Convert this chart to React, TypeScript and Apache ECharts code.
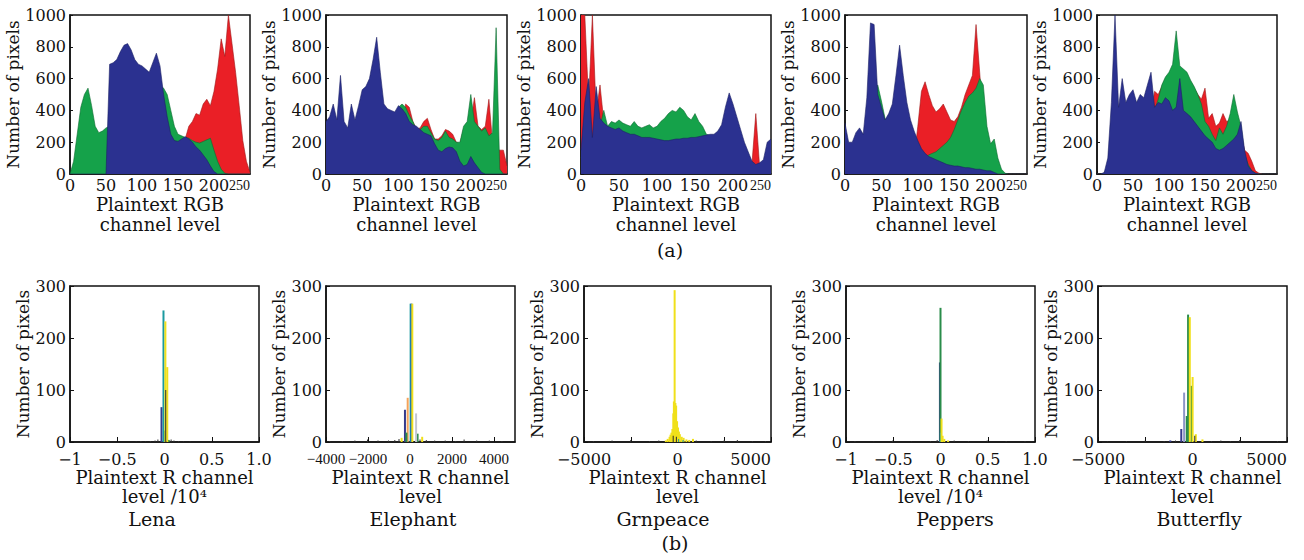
import React, { useEffect, useRef } from "react";
import * as echarts from "echarts";

// ---------- DATA ----------
const levels = [0,5,10,15,20,25,30,35,40,45,50,55,60,65,70,75,80,85,90,95,100,105,110,115,120,125,130,135,140,145,150,155,160,165,170,175,180,185,190,195,200,205,210,215,220,225,230,235,240,245,250];

// (a) plaintext RGB histograms (pixel counts per level bin)
const lenaRed = [0,0,20,40,60,80,80,80,90,100,100,120,130,140,140,140,140,140,140,140,140,140,140,140,140,150,150,160,170,180,190,200,220,300,330,380,370,440,470,430,520,660,850,740,1000,820,640,430,210,80,10];
const lenaGreen = [0,80,250,420,500,540,430,300,260,270,290,300,350,400,450,480,500,520,520,520,530,540,550,560,560,560,540,500,400,300,250,240,230,225,210,200,195,205,215,225,150,80,30,5,0,0,0,0,0,0,0];
const lenaBlue = [0,0,0,0,0,0,0,0,0,0,0,690,700,720,770,810,820,780,720,690,680,660,640,700,760,680,500,360,250,210,205,220,235,220,200,170,150,120,90,50,15,0,0,0,0,0,0,0,0,0,0];

const elephantRed = [200,200,200,200,200,200,200,200,200,200,200,200,200,200,200,200,200,200,200,200,200,300,440,420,330,280,290,330,350,280,220,220,240,280,270,250,200,190,280,300,320,480,300,280,300,470,200,160,150,150,50];
const elephantGreen = [250,250,250,250,250,250,250,250,250,250,250,250,250,250,250,250,250,250,250,250,420,440,420,370,330,280,280,300,300,260,220,210,230,270,230,220,200,200,300,330,500,330,300,270,290,240,260,920,30,0,0];
const elephantBlue = [330,360,440,340,620,330,290,440,340,430,530,550,600,720,860,640,440,410,400,390,430,410,380,330,310,300,280,260,250,240,190,150,140,160,170,165,140,80,50,60,110,70,40,10,0,0,0,0,0,0,0];

const grnpeaceRed = [1000,1000,450,1000,380,560,330,180,180,180,180,180,180,180,180,180,180,180,180,180,180,180,180,180,180,180,180,180,180,180,180,180,180,180,180,180,180,180,180,180,180,180,180,150,120,70,380,50,40,30,20];
const grnpeaceGreen = [100,150,200,200,250,300,400,300,330,320,340,320,310,300,330,300,290,300,310,290,300,330,350,380,400,390,420,400,360,340,380,330,300,250,240,220,200,200,200,200,200,200,180,150,100,60,40,30,30,30,30];
const grnpeaceBlue = [150,450,600,230,550,350,320,300,290,280,290,270,260,250,250,240,230,230,230,225,220,215,210,210,215,220,220,225,225,230,230,235,240,245,250,250,270,310,420,510,440,360,280,200,140,80,60,70,90,200,220];

const peppersRed = [100,100,100,100,100,100,100,100,100,100,100,100,100,100,100,100,100,100,100,100,300,520,580,500,430,390,410,440,390,340,330,360,420,500,560,620,940,640,330,150,60,20,0,0,0,0,0,0,0,0,0];
const peppersGreen = [150,150,150,200,280,240,300,400,500,560,460,350,320,320,300,280,250,200,160,130,110,100,100,120,130,140,160,180,200,230,280,340,400,450,490,510,540,600,560,300,190,220,100,30,5,0,0,0,0,0,0];
const peppersBlue = [320,200,200,260,290,250,480,950,940,500,420,340,380,440,620,810,620,450,340,270,210,160,130,110,100,90,80,70,60,55,50,50,45,40,40,35,30,30,25,20,20,10,0,0,0,0,0,0,0,0,0];

const butterflyRed = [0,0,5,50,300,350,350,350,350,350,350,350,350,350,350,380,520,500,550,600,600,640,700,650,640,620,580,540,500,470,540,350,380,300,320,380,330,340,380,300,250,150,130,80,20,5,0,0,0,0,0];
const butterflyGreen = [0,0,5,50,300,350,350,350,350,350,350,350,350,350,350,380,400,470,560,610,640,690,900,680,660,640,590,550,500,440,330,300,250,210,290,250,300,380,500,390,300,120,60,20,5,0,0,0,0,0,0];
const butterflyBlue = [0,0,10,100,450,1000,420,600,450,500,530,450,500,480,560,640,420,450,440,480,460,400,420,600,400,380,360,330,300,270,240,220,200,160,150,160,180,200,220,250,330,150,50,20,5,0,0,0,0,0,0];

// (b) histograms: [level, count]
const lenaNoise = [[-0.3,1],[-0.25,2],[-0.2,1],[-0.15,2],[-0.1,3],[-0.07,5],[0.07,5],[0.1,3],[0.15,2],[0.2,1],[0.27,1]];
const lenaNavy = [[-0.037,67]];
const lenaTeal = [[-0.016,253]];
const lenaGreen2 = [[-0.008,22],[0.04,4]];
const lenaYellow = [[0.004,232],[0.024,144]];
const lenaDark = [[0.013,100]];

const elephantNoise = [[-3800,2],[-3200,2],[-2600,3],[-2000,5],[-1500,3],[-1000,3],[-700,4],[-500,6],[500,5],[800,4],[1200,3],[1700,3],[2200,2],[2600,5],[3200,3],[3800,3],[4400,2]];
const elephantNavy = [[-240,62]];
const elephantOrange = [[-110,85]];
const elephantGreen2 = [[-170,18],[360,16]];
const elephantGray = [[290,55]];
const elephantTeal = [[30,266]];
const elephantBlue2 = [[70,266]];
const elephantYellow = [[110,266],[-400,8],[580,10]];

const grnpeaceNoise = [[-4500,2],[-3500,3],[-2500,4],[-1500,2],[-1000,3],[1000,3],[1800,2],[2500,4],[3200,4],[4000,2],[4700,2]];
const grnpeaceYellow = [[-650,3],[-550,6],[-450,10],[-400,14],[-350,18],[-300,25],[-250,55],[-220,78],[-180,292],[-140,75],[-100,70],[-50,40],[0,28],[50,20],[100,15],[200,10],[300,8],[450,5],[600,4],[800,6]];
const grnpeaceDark = [[-230,12],[-60,10]];
const grnpeaceTeal = [[60,6],[300,4]];

const peppersNoise = [[-0.9,2],[-0.7,1],[-0.5,3],[-0.3,1],[-0.1,2],[-0.03,4],[0.15,3],[0.3,2],[0.5,3],[0.7,2],[0.9,2]];
const peppersNavy = [[-0.006,153]];
const peppersGreen2 = [[0.0,258]];
const peppersTeal = [[0.004,18]];
const peppersYellow = [[0.011,45],[0.022,12],[0.04,6],[0.08,3]];

const butterflyNoise = [[-4500,1],[-3500,2],[-2500,3],[-1500,2],[-900,3],[1000,2],[1500,3],[2000,2],[2500,4],[3500,2],[4500,2]];
const butterflyNavy = [[-620,25],[-1200,3]];
const butterflySlate = [[-470,95]];
const butterflyGreen2 = [[-330,50],[-260,245],[-80,108]];
const butterflyYellow = [[-170,240],[-20,125],[150,15],[500,5]];
const butterflyDark = [[120,12]];

const imageNames = ["Lena", "Elephant", "Grnpeace", "Peppers", "Butterfly"];

// ---------- STYLE / LAYOUT ----------
const FONT = "DejaVu Serif";
const INK = "#111";
const RED = "#ea1f26";
const GREEN = "#15a24a";
const BLUE = "#2b3190";
const C = {
  navy: "#353a8c", teal: "#1b9aa0", green: "#2a8c4a", yellow: "#f0e01a",
  orange: "#f3a35a", gray: "#c3c6d0", slate: "#8d95c8", dark: "#2b2b2b", noise: "#333333",
};

const topGrids = [
  { left: 70, width: 180 }, { left: 326, width: 181 }, { left: 581, width: 190 },
  { left: 845, width: 182 }, { left: 1097, width: 180 },
];
const botGrids = [
  { left: 70, width: 189 }, { left: 326, width: 189 }, { left: 584, width: 187 },
  { left: 846, width: 189 }, { left: 1098, width: 189 },
];

const topData = [
  [lenaRed, lenaGreen, lenaBlue],
  [elephantRed, elephantGreen, elephantBlue],
  [grnpeaceRed, grnpeaceGreen, grnpeaceBlue],
  [peppersRed, peppersGreen, peppersBlue],
  [butterflyRed, butterflyGreen, butterflyBlue],
];

const botData = [
  [[lenaNoise, C.noise, 1], [lenaNavy, C.navy, 2], [lenaGreen2, C.green, 2], [lenaTeal, C.teal, 2], [lenaYellow, C.yellow, 2], [lenaDark, C.dark, 1]],
  [[elephantNoise, C.noise, 1], [elephantNavy, C.navy, 2], [elephantOrange, C.orange, 2], [elephantGreen2, C.green, 2], [elephantGray, C.gray, 2], [elephantTeal, C.teal, 2], [elephantBlue2, "#2062c0", 2], [elephantYellow, C.yellow, 2]],
  [[grnpeaceNoise, C.noise, 1], [grnpeaceYellow, C.yellow, 2], [grnpeaceDark, C.dark, 1], [grnpeaceTeal, C.teal, 1]],
  [[peppersNoise, C.noise, 1], [peppersNavy, C.navy, 2], [peppersGreen2, C.green, 2], [peppersTeal, C.teal, 2], [peppersYellow, C.yellow, 2]],
  [[butterflyNoise, C.noise, 1], [butterflyNavy, C.navy, 2], [butterflySlate, C.slate, 2], [butterflyGreen2, C.green, 2], [butterflyYellow, C.yellow, 2], [butterflyDark, C.dark, 1]],
];

const botX = [
  { min: -1, max: 1, interval: 0.5, name: "Plaintext R channel\nlevel /10\u2074" },
  { min: -4000, max: 5000, interval: 2000, name: "Plaintext R channel\nlevel" },
  { min: -5000, max: 5000, interval: 5000, name: "Plaintext R channel\nlevel" },
  { min: -1, max: 1, interval: 0.5, name: "Plaintext R channel\nlevel /10\u2074" },
  { min: -5000, max: 5000, interval: 5000, name: "Plaintext R channel\nlevel" },
];

const minus = (v: number) => (v === 1 ? "1.0" : String(v).replace("-", "\u2212"));
const plain = (v: number) => String(v);

function buildOption() {
  const grid: any[] = [];
  const xAxis: any[] = [];
  const yAxis: any[] = [];
  const series: any[] = [];
  const labelStyle = { fontFamily: FONT, fontSize: 16, color: INK };
  const nameStyle = { fontFamily: FONT, fontSize: 18, color: INK };
  const axisLine = { show: true, onZero: false, lineStyle: { color: INK, width: 1.5 } };

  topGrids.forEach((g, i) => {
    grid.push({ left: g.left, top: 15, width: g.width, height: 159, show: true, borderColor: INK, borderWidth: 1.5 });
    const xi = xAxis.length;
    // main x axis: ticks 0..250, labels 0..200
    xAxis.push({
      gridIndex: i, type: "value", position: "bottom", min: 0, max: 250, interval: 50,
      axisLine, axisTick: { show: true, inside: true, length: 3, lineStyle: { color: INK } },
      splitLine: { show: false },
      axisLabel: { ...labelStyle, margin: 3, showMinLabel: true, showMaxLabel: false, formatter: plain },
      name: "Plaintext RGB\nchannel level", nameLocation: "middle", nameGap: 20,
      nameTextStyle: { ...nameStyle, lineHeight: 20 },
    });
    // companion axis that carries only the squeezed, right-aligned "250" label
    xAxis.push({
      gridIndex: i, type: "value", position: "bottom", min: 0, max: 250, interval: 250,
      axisLine: { show: false }, axisTick: { show: false }, splitLine: { show: false },
      axisLabel: {
        ...labelStyle, fontFamily: "Liberation Serif", fontSize: 14, margin: 4,
        showMinLabel: false, showMaxLabel: true, alignMaxLabel: "right", formatter: plain,
      },
    });
    yAxis.push({
      gridIndex: i, type: "value", min: 0, max: 1000, interval: 200,
      axisLine, axisTick: { show: true, inside: true, length: 3, lineStyle: { color: INK } },
      splitLine: { show: false },
      axisLabel: { ...labelStyle, margin: 4, showMinLabel: true, showMaxLabel: true, formatter: plain },
      name: "Number of pixels", nameLocation: "middle", nameGap: 45, nameRotate: 90,
      nameTextStyle: { ...nameStyle, fontSize: 17 },
    });
    const cols = [[RED, "#9e1a1a"], [GREEN, "#0d6b30"], [BLUE, "#1c2166"]];
    topData[i].forEach((arr, k) => {
      series.push({
        type: "line", xAxisIndex: xi, yAxisIndex: i, silent: true,
        showSymbol: false, symbol: "none", clip: true,
        data: levels.map((l, j) => [l, arr[j]]),
        lineStyle: { width: 0.6, color: cols[k][1] },
        areaStyle: { color: cols[k][0], opacity: 1 },
        itemStyle: { color: cols[k][0] },
        z: 2 + k,
      });
    });
  });

  botGrids.forEach((g, j) => {
    const i = j + 5;
    const bx = botX[j];
    grid.push({ left: g.left, top: 286, width: g.width, height: 156, show: true, borderColor: INK, borderWidth: 1.5 });
    const xi = xAxis.length;
    const labelOpts: any = j === 1
      ? { fontFamily: "Liberation Serif", fontSize: 15, showMaxLabel: false }
      : { showMinLabel: true, showMaxLabel: true, alignMaxLabel: bx.interval === 5000 ? "right" : "center" };
    xAxis.push({
      gridIndex: i, type: "value", position: "bottom", min: bx.min, max: bx.max, interval: bx.interval,
      axisLine, axisTick: { show: true, inside: true, length: 5, lineStyle: { color: INK } },
      minorTick: { show: bx.interval === 5000, splitNumber: 2, length: 5, lineStyle: { color: INK } },
      splitLine: { show: false },
      axisLabel: {
        ...labelStyle, lineHeight: 16, margin: 9, ...labelOpts,
        formatter: (v: number) => minus(v),
      },
      name: bx.name, nameLocation: "middle", nameGap: 25,
      nameTextStyle: { ...nameStyle, lineHeight: 19 },
    });
    yAxis.push({
      gridIndex: i, type: "value", min: 0, max: 300, interval: 100,
      axisLine, axisTick: { show: true, inside: true, length: 4, lineStyle: { color: INK } },
      splitLine: { show: false },
      axisLabel: { ...labelStyle, lineHeight: 16, margin: 4, showMinLabel: true, showMaxLabel: true, formatter: plain },
      name: "Number of pixels", nameLocation: "middle", nameGap: 39, nameRotate: 90,
      nameTextStyle: { ...nameStyle, fontSize: 17 },
    });
    botData[j].forEach(([data, color, w]: any, k: number) => {
      series.push({
        type: "bar", xAxisIndex: xi, yAxisIndex: i, silent: true,
        data, barWidth: w, barGap: "-100%",
        itemStyle: { color }, z: 2 + k,
      });
    });
  });

  const txt = (text: string, x: number, y: number) => ({
    type: "text", x, y, silent: true,
    style: {
      text, fill: INK, fontFamily: FONT, fontSize: 19,
      align: "center", verticalAlign: "middle", textAlign: "center", textVerticalAlign: "middle",
    },
  });
  const nameX = [152, 413, 663, 955, 1199];
  const graphic = [
    txt("(a)", 670, 250),
    txt("(b)", 675, 543),
    ...imageNames.map((n, k) => txt(n, nameX[k], 519)),
  ];

  return { animation: false, backgroundColor: "#ffffff", grid, xAxis, yAxis, series, graphic };
}

export default function App() {
  const ref = useRef<HTMLDivElement>(null);
  useEffect(() => {
    if (!ref.current) return;
    const chart = echarts.init(ref.current, undefined, { renderer: "svg" });
    chart.setOption(buildOption() as any);
    return () => chart.dispose();
  }, []);
  return (
    <div
      ref={ref}
      style={{ position: "fixed", left: 0, top: 0, width: 1304, height: 560, background: "#fff" }}
    />
  );
}
